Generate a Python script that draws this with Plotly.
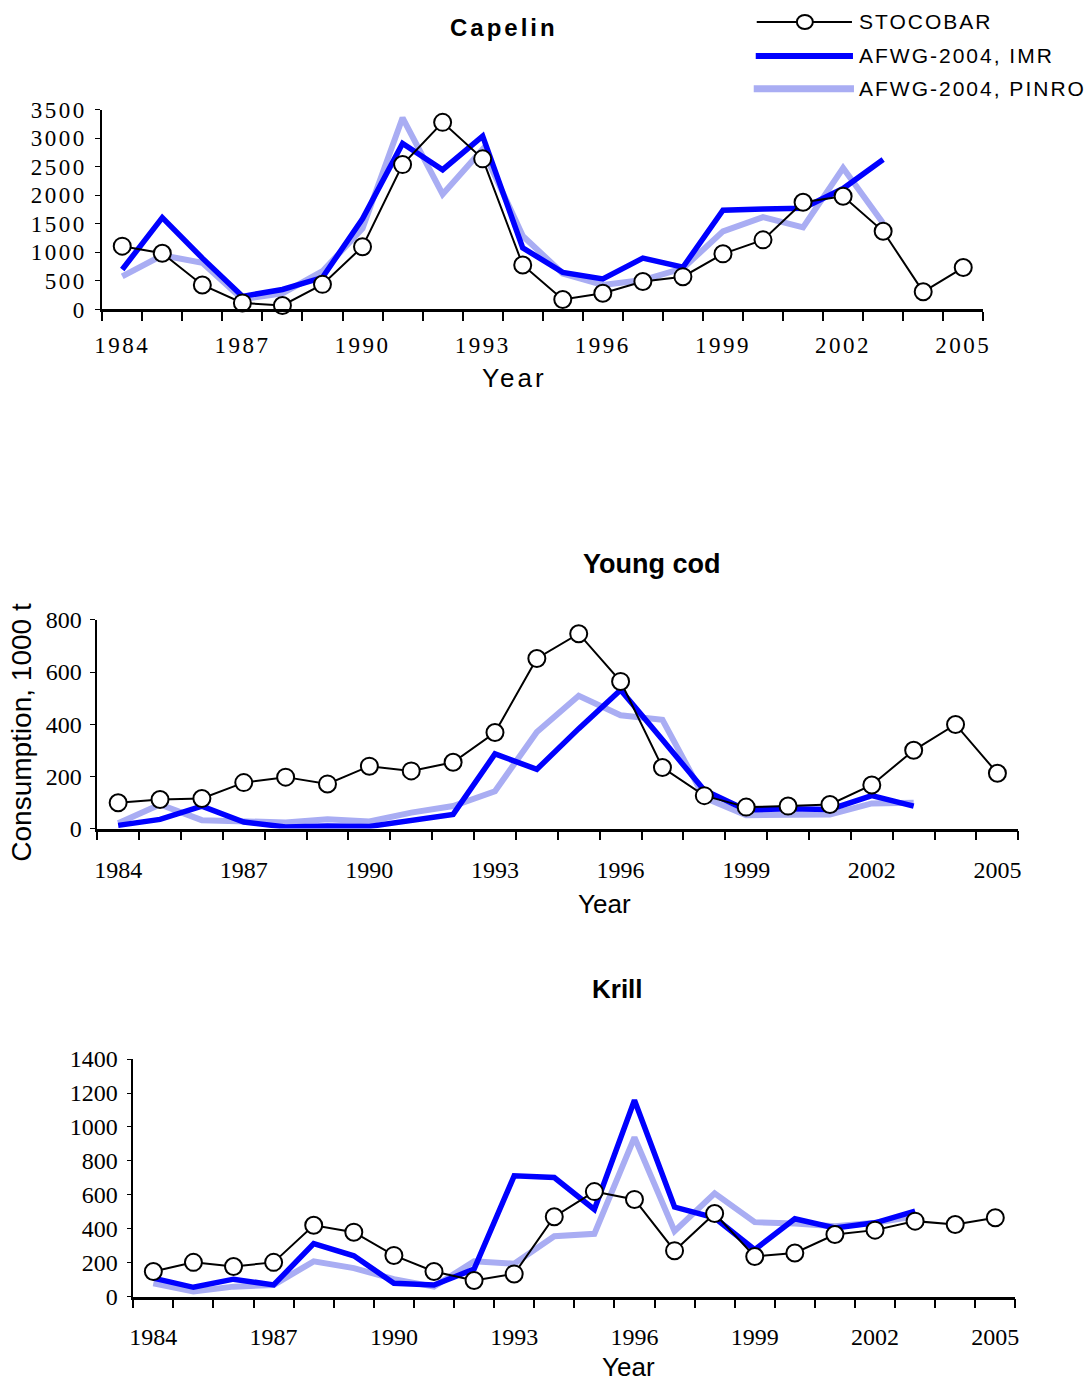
import plotly.graph_objects as go

# ---------------- data (1000 t) ----------------
years = list(range(1984, 2006))          # STOCOBAR years
years_afwg = list(range(1984, 2004))     # AFWG-2004 years
tick_years = [1984, 1987, 1990, 1993, 1996, 1999, 2002, 2005]

capelin_stocobar = [1110, 985, 430, 115, 70, 440, 1100, 2540, 3280, 2640, 780,
                    175, 285, 490, 575, 975, 1220, 1880, 1985, 1370, 310, 735]
capelin_imr = [700, 1610, 900, 230, 350, 560, 1590, 2910, 2450, 3040, 1080,
               650, 535, 900, 740, 1740, 1760, 1775, 2120, 2630]
capelin_pinro = [580, 950, 820, 180, 280, 670, 1420, 3360, 2020, 2810, 1290,
                 630, 430, 515, 720, 1370, 1620, 1440, 2480, 1510]

cod_stocobar = [99, 111, 115, 176, 197, 171, 239, 221, 254, 368, 652,
                747, 564, 234, 126, 82, 86, 92, 167, 300, 399, 212]
cod_imr = [12, 35, 86, 25, 6, 10, 8, 29, 54, 286, 227,
           383, 531, 340, 147, 71, 76, 73, 126, 86]
cod_pinro = [20, 92, 32, 29, 23, 35, 27, 61, 86, 143, 370,
             509, 434, 417, 118, 51, 54, 54, 96, 99]

krill_stocobar = [148, 202, 178, 202, 421, 380, 243, 148, 95, 134, 471,
                  619, 573, 271, 490, 237, 257, 366, 392, 445, 425, 465]
krill_imr = [109, 55, 103, 69, 312, 241, 79, 69, 162, 712, 702,
             514, 1157, 528, 465, 277, 459, 405, 435, 504]
krill_pinro = [79, 30, 59, 69, 208, 168, 103, 59, 208, 194, 356,
               370, 939, 386, 609, 439, 431, 415, 435, 474]

# ---------------- page geometry ----------------
W, H = 1088, 1383
# layout positions below are given in page pixels; the page is shown
# slightly reduced and offset, so convert to figure pixels first
SCALE, OFF_X, OFF_Y = 0.983, 8.0, 12.0


def px(x):
    return ((x - OFF_X) / SCALE) / W


def py(y):
    return 1 - ((y - OFF_Y) / SCALE) / H


def spaced(text, sp):
    """Wrap text in a letter-spaced span."""
    if not sp:
        return text
    return f'<span style="letter-spacing:{sp}px">{text}</span>'


panels = [
    dict(stoc=capelin_stocobar, imr=capelin_imr, pinro=capelin_pinro,
         xpx=(102, 981), ypx=(109, 309), ymax=3500, dy=500,
         xlab_len=13, spacing=2.5, fsize=23),
    dict(stoc=cod_stocobar, imr=cod_imr, pinro=cod_pinro,
         xpx=(97, 1016), ypx=(620, 829), ymax=800, dy=200,
         xlab_len=18, spacing=0, fsize=24),
    dict(stoc=krill_stocobar, imr=krill_imr, pinro=krill_pinro,
         xpx=(133, 1013), ypx=(1060, 1298), ymax=1400, dy=200,
         xlab_len=17, spacing=0, fsize=24),
]

BLUE = "#0000ff"
PINRO_COL = "#a9adf3"

fig = go.Figure()
layout = {}

for i, p in enumerate(panels, start=1):
    xa = "x" if i == 1 else f"x{i}"
    ya = "y" if i == 1 else f"y{i}"
    fig.add_trace(go.Scatter(
        x=years_afwg, y=p["pinro"], xaxis=xa, yaxis=ya, mode="lines",
        line=dict(color=PINRO_COL, width=6), showlegend=False,
        name="AFWG-2004, PINRO", cliponaxis=False))
    fig.add_trace(go.Scatter(
        x=years_afwg, y=p["imr"], xaxis=xa, yaxis=ya, mode="lines",
        line=dict(color=BLUE, width=5.5), showlegend=False,
        name="AFWG-2004, IMR", cliponaxis=False))
    fig.add_trace(go.Scatter(
        x=years, y=p["stoc"], xaxis=xa, yaxis=ya, mode="lines+markers",
        line=dict(color="black", width=2),
        marker=dict(symbol="circle", size=17, color="white",
                    line=dict(color="black", width=2)),
        showlegend=False, name="STOCOBAR", cliponaxis=False))

    tick_font = dict(family="Liberation Serif", size=p["fsize"], color="black")
    yvals = list(range(0, p["ymax"] + 1, p["dy"]))
    xkey = "xaxis" if i == 1 else f"xaxis{i}"
    ykey = "yaxis" if i == 1 else f"yaxis{i}"
    layout[xkey] = dict(
        domain=[px(p["xpx"][0]), px(p["xpx"][1])],
        anchor=ya, range=[1983.5, 2005.5],
        tickmode="array", tickvals=tick_years,
        ticktext=[spaced(str(t), p["spacing"]) for t in tick_years],
        ticks="outside", ticklen=p["xlab_len"], tickcolor="rgba(0,0,0,0)",
        minor=dict(tick0=1983.5, dtick=1, ticks="outside", ticklen=9,
                   tickwidth=2, tickcolor="black"),
        showline=True, linecolor="black", linewidth=2.5,
        showgrid=False, zeroline=False, tickfont=tick_font,
    )
    layout[ykey] = dict(
        domain=[py(p["ypx"][1]), py(p["ypx"][0])],
        anchor=xa, range=[0, p["ymax"]],
        tickmode="array", tickvals=yvals,
        ticktext=[spaced(str(v), p["spacing"]) for v in yvals],
        ticks="outside", ticklen=5, tickwidth=1, tickcolor="black",
        showline=True, linecolor="black", linewidth=1.5,
        showgrid=False, zeroline=False, tickfont=tick_font,
        ticklabelstandoff=4,
    )

annotations = [
    dict(text=spaced("<b>Capelin</b>", 3), x=px(503), y=py(27),
         font=dict(family="Liberation Sans", size=24, color="black")),
    dict(text=spaced("Year", 3), x=px(513), y=py(378),
         font=dict(family="Liberation Sans", size=26, color="black")),
    dict(text="<b>Young cod</b>", x=px(650), y=py(564),
         font=dict(family="Liberation Sans", size=27, color="black")),
    dict(text="Year", x=px(603), y=py(905),
         font=dict(family="Liberation Sans", size=26, color="black")),
    dict(text="Consumption, 1000 t", x=px(22), y=py(733), textangle=-90,
         font=dict(family="Liberation Sans", size=28, color="black")),
    dict(text="<b>Krill</b>", x=px(616), y=py(990),
         font=dict(family="Liberation Sans", size=26, color="black")),
    dict(text="Year", x=px(627), y=py(1368),
         font=dict(family="Liberation Sans", size=26, color="black")),
]
for a in annotations:
    a.update(xref="paper", yref="paper", showarrow=False,
             xanchor="center", yanchor="middle")

# legend drawn in the top-right corner
legend_rows = [("STOCOBAR", 21), ("AFWG-2004, IMR", 55), ("AFWG-2004, PINRO", 88)]
for label, yrow in legend_rows:
    annotations.append(dict(
        text=spaced(label, 2.0), x=px(855), y=py(yrow), xref="paper",
        yref="paper", xanchor="left", yanchor="middle", showarrow=False,
        font=dict(family="Liberation Sans", size=21, color="black")))

shapes = [
    dict(type="line", xref="paper", yref="paper",
         x0=px(755), x1=px(850), y0=py(21), y1=py(21),
         line=dict(color="black", width=2)),
    dict(type="circle", xref="paper", yref="paper",
         x0=px(795), x1=px(811), y0=py(28), y1=py(14),
         fillcolor="white", line=dict(color="black", width=2)),
    dict(type="line", xref="paper", yref="paper",
         x0=px(754), x1=px(851), y0=py(55), y1=py(55),
         line=dict(color=BLUE, width=6)),
    dict(type="line", xref="paper", yref="paper",
         x0=px(752), x1=px(852), y0=py(88), y1=py(88),
         line=dict(color=PINRO_COL, width=7)),
]

fig.update_layout(
    width=W, height=H,
    margin=dict(l=0, r=0, t=0, b=0),
    paper_bgcolor="white", plot_bgcolor="white",
    showlegend=False,
    annotations=annotations, shapes=shapes,
    **layout,
)

fig.write_html("out.html")
